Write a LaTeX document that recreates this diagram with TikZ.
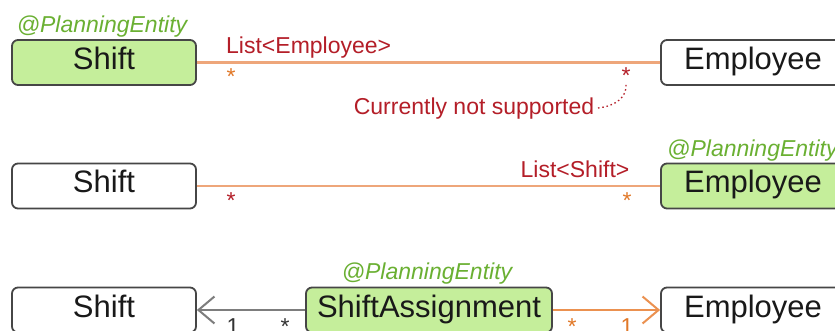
\documentclass[tikz,border=0pt]{standalone}
\usepackage{fontspec}
\setmainfont{Liberation Sans}
\usetikzlibrary{arrows.meta}
\definecolor{boxgreen}{RGB}{197,238,155}
\definecolor{boxline}{RGB}{70,70,70}
\definecolor{annogreen}{RGB}{106,176,50}
\definecolor{lblred}{RGB}{180,30,40}
\definecolor{lineorange}{RGB}{238,166,122}
\definecolor{starorange}{RGB}{225,120,40}
\definecolor{arroworange}{RGB}{235,145,80}
\definecolor{arrowgray}{RGB}{125,125,125}
\begin{document}
\begin{tikzpicture}[x=1pt,y=-1pt,
  cls/.style={draw=boxline, line width=1.8pt, rounded corners=6pt, minimum width=184pt,
    minimum height=45pt, inner sep=0pt, text height=22pt, text depth=8pt,
    font=\fontsize{31}{31}\selectfont, text=black!90, fill=white},
  ent/.style={cls, fill=boxgreen},
  ann/.style={font=\itshape\fontsize{23}{23}\selectfont, text=annogreen, inner sep=0pt, anchor=base},
  lbl/.style={font=\fontsize{23}{23}\selectfont, inner sep=0pt, anchor=base},
  assoc/.style={draw=lineorange, line width=2.4pt},
  note/.style={draw=lblred, line width=1.3pt, dash pattern=on 1.5pt off 2.8pt}]
\useasboundingbox (0,0) rectangle (835,331);
\clip (0,0) rectangle (835,331);
\fill[white] (0,0) rectangle (835,331);

% Row 1
\node[ent] (shiftA) at (104,62.5) {Shift};
\node[cls] (empA) at (753,62.5) {Employee};
\node[ann] (annA) at (102,33) {@PlanningEntity};
\draw[assoc] (shiftA.east) -- (empA.west);
\node[lbl, text=lblred, anchor=base west] (listE) at (226,54) {List<Employee>};
\node[lbl, text=starorange] (sA1) at (231,85) {*};
\node[lbl, text=lblred] (sA2) at (626,84) {*};
\node[lbl, text=lblred] (notsup) at (474,115) {Currently not supported};
\coordinate (nsA) at (598,108);
\draw[note] (nsA) .. controls (616,106) and (627,97) .. (sA2.south);

% Row 2
\node[cls] (shiftB) at (104,186) {Shift};
\node[ent] (empB) at (753,186) {Employee};
\node[ann, anchor=base west] (annB) at (667,157) {@PlanningEntity};
\draw[assoc] (shiftB.east) -- (empB.west);
\node[lbl, text=lblred] (listS) at (575,177.5) {List<Shift>};
\node[lbl, text=lblred] (sB1) at (231,208.5) {*};
\node[lbl, text=starorange] (sB2) at (627,208.5) {*};

% Row 3
\node[cls] (shiftC) at (104,310) {Shift};
\node[ent, minimum width=246pt] (sa) at (429,310) {ShiftAssignment};
\node[cls] (empC) at (753,310) {Employee};
\node[ann] (annC) at (427,279.5) {@PlanningEntity};
\draw[draw=arrowgray, line width=2.2pt, -{Straight Barb[length=16pt,width=27pt,line width=2pt]}] (sa.west) -- (shiftC.east);
\draw[draw=arroworange, line width=2.2pt, -{Straight Barb[length=16pt,width=27pt,line width=2pt]}] (sa.east) -- (empC.west);
\node[lbl, text=black!80] (oneL) at (233,334.5) {1};
\node[lbl, text=black!80] (starL) at (285,334) {*};
\node[lbl, text=starorange] (starR) at (572,334) {*};
\node[lbl, text=starorange] (oneR) at (627,334.5) {1};
\end{tikzpicture}
\end{document}
